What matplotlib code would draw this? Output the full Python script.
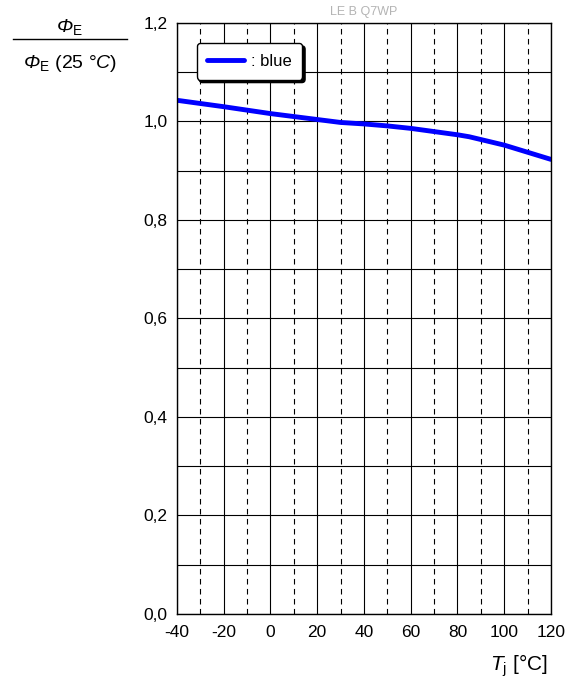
import numpy as np
import matplotlib.pyplot as plt
from matplotlib.ticker import MultipleLocator, FuncFormatter

plt.rcParams['font.family'] = ['Liberation Sans', 'DejaVu Sans']
# rm -> italic so the upper-case Greek Phi comes out slanted, sf -> upright for subscripts
plt.rcParams['mathtext.fontset'] = 'custom'
plt.rcParams['mathtext.rm'] = 'Liberation Sans:italic'
plt.rcParams['mathtext.it'] = 'Liberation Sans:italic'
plt.rcParams['mathtext.sf'] = 'Liberation Sans'
plt.rcParams['axes.unicode_minus'] = False

# data
temp = [-40, -20, 0, 20, 30, 40, 50, 60, 80, 85, 100, 120]
rel_flux = [1.043, 1.030, 1.016, 1.004, 0.998, 0.995, 0.991, 0.986, 0.973, 0.969, 0.952, 0.923]

fig = plt.figure(figsize=(5.83, 6.86), dpi=100)
ax = fig.add_axes([0.3036, 0.105, 0.6415, 0.8615])

ax.plot(temp, rel_flux, color='blue', linewidth=3.5, label=': blue', solid_capstyle='round')

ax.set_xlim(-40, 120)
ax.set_ylim(0, 1.2)
ax.xaxis.set_major_locator(MultipleLocator(20))
ax.xaxis.set_minor_locator(MultipleLocator(10))
ax.yaxis.set_major_locator(MultipleLocator(0.2))
ax.yaxis.set_minor_locator(MultipleLocator(0.1))
ax.yaxis.set_major_formatter(FuncFormatter(lambda v, p: ('%.1f' % v).replace('.', ',')))

ax.grid(which='major', axis='x', color='black', linestyle='-', linewidth=0.8)
ax.grid(which='minor', axis='x', color='black', linestyle=(0, (5, 4)), linewidth=0.8)
ax.grid(which='both', axis='y', color='black', linestyle='-', linewidth=0.8)
ax.set_axisbelow(True)

ax.tick_params(which='both', direction='in', length=0, labelsize=12.5)
ax.tick_params(axis='x', pad=8)
ax.tick_params(axis='y', pad=7)
for s in ax.spines.values():
    s.set_linewidth(1.0)

leg = ax.legend(loc='upper left', bbox_to_anchor=(0.03, 0.98), fontsize=12,
                frameon=True, shadow={'color': 'black', 'alpha': 1.0},
                handlelength=2.2, handletextpad=0.4, borderpad=0.65)
leg.get_frame().set_edgecolor('black')
leg.get_frame().set_linewidth(1.0)
leg.get_frame().set_alpha(1.0)

fig.text(0.623, 0.982, 'LE B Q7WP', ha='center', va='center', fontsize=9, color='#b4b4b4')

# y label as a fraction
fig.text(0.12, 0.96, r'$Φ_{\mathsf{E}}$', ha='center', va='center', fontsize=14)
fig.add_artist(plt.Line2D([0.022, 0.218], [0.943, 0.943], color='black', linewidth=1.0))
fig.text(0.12, 0.908, r'$Φ_{\mathsf{E}}$ (25 °$\mathit{C}$)', ha='center', va='center', fontsize=14)

fig.text(0.94, 0.03, r'$\mathit{T}_{\mathsf{j}}$ [°C]', ha='right', va='center', fontsize=15)

fig.savefig('out.png', dpi=100)
